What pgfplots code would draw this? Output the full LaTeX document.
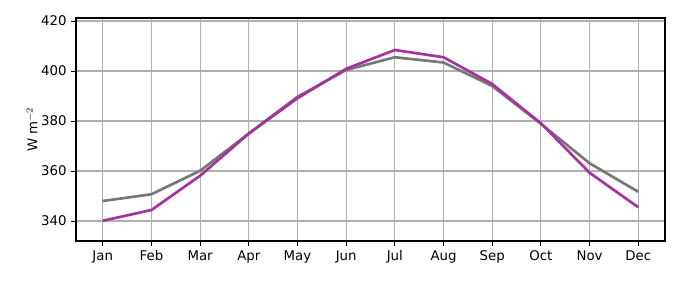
\documentclass[border=0pt]{standalone}
\usepackage{fontspec}
\setmainfont{DejaVu Sans}
\usepackage{pgfplots}
\pgfplotsset{compat=1.18}
\definecolor{lgray}{HTML}{777777}
\definecolor{lpurple}{HTML}{A4339E}
\definecolor{gridc}{HTML}{B0B0B0}
\begin{document}
\begin{tikzpicture}[x=0.75pt,y=0.75pt]
\begin{axis}[
  at={(76pt*0.75,39pt*0.75)}, anchor=south west,
  scale only axis, width=589*0.75pt, height=223*0.75pt,
  xmin=-0.55, xmax=11.55, ymin=332, ymax=421.2,
  xtick={0,...,11},
  xticklabels={Jan,Feb,Mar,Apr,May,Jun,Jul,Aug,Sep,Oct,Nov,Dec},
  ytick={340,360,380,400,420},
  grid=major, grid style={color=gridc, line width=0.8pt},
  tick style={black, line width=0.6pt}, tick align=outside,
  major tick length=3.5pt,
  axis line style={line width=0.8pt},
  ticklabel style={font=\fontsize{10}{12}\selectfont},
  /pgf/number format/assume math mode=true,
  /pgf/number format/1000 sep={},
  ylabel={W m$^{-2}$}, ylabel style={font=\fontsize{10}{12}\selectfont},
  ylabel shift=-4pt,
  xtick pos=bottom, ytick pos=left,
]
\addplot[lgray, line width=2pt] coordinates {
(0,348.0) (1,350.7) (2,360.1) (3,375.0) (4,389.7) (5,400.4)
(6,405.5) (7,403.4) (8,394.0) (9,378.9) (10,363.1) (11,351.7)};
\addplot[lpurple, line width=2pt] coordinates {
(0,340.1) (1,344.4) (2,358.1) (3,375.0) (4,389.1) (5,400.9)
(6,408.4) (7,405.5) (8,394.8) (9,379.1) (10,359.3) (11,345.5)};
\end{axis}
\pgfresetboundingbox
\path (0,0) rectangle (680*0.75pt,280*0.75pt);
\end{tikzpicture}
\end{document}
